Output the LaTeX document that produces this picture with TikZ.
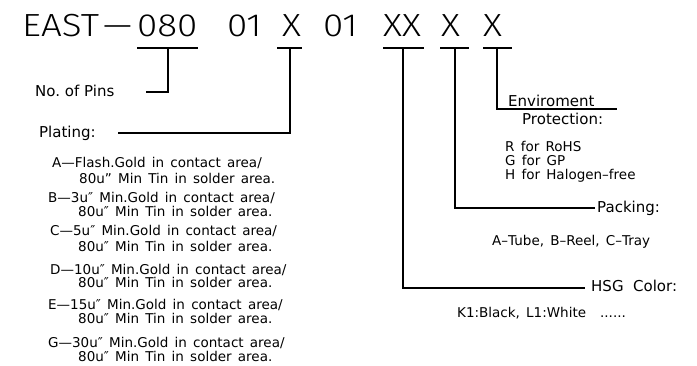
\documentclass[tikz,border=0pt]{standalone}
\usepackage{fontspec}
\setmainfont{DejaVu Sans}
\newfontfamily\titlefont{Fira Sans Light}[FakeStretch=1.15]
\newcommand\mysmallfont{\fontsize{13.5}{13.5}\selectfont\spaceskip=0.46em\relax}
\begin{document}
\begin{tikzpicture}[x=1pt,y=-1pt]
\tikzset{
 ttl/.style={font=\titlefont\fontsize{32}{32}\selectfont, inner sep=0pt, anchor=base west},
 lbl/.style={font=\fontsize{15}{15}\selectfont, inner sep=0pt, anchor=base west},
 sml/.style={font=\mysmallfont, inner sep=0pt, anchor=base west},
 ln/.style={line width=1.6pt}
}
\useasboundingbox[fill=white] (0,0) rectangle (697,366);
% title
\node[ttl] (t0) at (22,37) {EAST};
\node[ttl] (t1) at (103,37) {—};
\node[ttl] (t2) at (137,37) {080};
\node[ttl] (t3) at (227,37) {01};
\node[ttl] (t4) at (282,37) {X};
\node[ttl] (t5) at (323,37) {01};
\node[ttl] (t6) at (383,37) {XX};
\node[ttl] (t7) at (441,37) {X};
\node[ttl] (t8) at (483,37) {X};
% labels
\node[lbl] (pins) at (35,97) {No.\ of Pins};
\node[lbl] (plat) at (39,138) {Plating:};
\node[lbl] (env1) at (508,107) {Enviroment};
\node[lbl] (env2) at (522,125) {Protection:};
\node[lbl] (pack) at (597,213) {Packing:};
\node[lbl] (hsg) at (591,292) {HSG\ \ Color:};
% plating items
\node[sml] (a1) at (52,168) {A—Flash.Gold in contact area/};
\node[sml] (a2) at (79,184) {80u" Min Tin in solder area.};
\node[sml] (b1) at (48,203) {B—3u″ Min.Gold in contact area/};
\node[sml] (b2) at (78,217) {80u″ Min Tin in solder area.};
\node[sml] (c1) at (50,236) {C—5u″ Min.Gold in contact area/};
\node[sml] (c2) at (78,252) {80u″ Min Tin in solder area.};
\node[sml] (d1) at (50,275) {D—10u″ Min.Gold in contact area/};
\node[sml] (d2) at (78,288) {80u″ Min Tin in solder area.};
\node[sml] (e1) at (48,310) {E—15u″ Min.Gold in contact area/};
\node[sml] (e2) at (78,324) {80u″ Min Tin in solder area.};
\node[sml] (g1) at (48,348) {G—30u″ Min.Gold in contact area/};
\node[sml] (g2) at (78,362) {80u″ Min Tin in solder area.};
% right side items
\node[sml] (r1) at (505,152) {R for RoHS};
\node[sml] (r2) at (505,166) {G for GP};
\node[sml] (r3) at (505,180) {H for Halogen–free};
\node[sml] (pk) at (492,246) {A–Tube, B–Reel, C–Tray};
\node[sml] (hc) at (457,318) {K1:Black, L1:White\hspace{14pt}......};
% connectors
\coordinate (b1l) at (137,48); \coordinate (b1r) at (198,48); \coordinate (s1) at (168,48); \coordinate (f1) at (146,92);
\coordinate (b2l) at (277,48); \coordinate (b2r) at (302,48); \coordinate (s2) at (290,48); \coordinate (f2) at (118,133);
\coordinate (b3l) at (383,48); \coordinate (b3r) at (424,48); \coordinate (s3) at (403,48); \coordinate (f3) at (585,288);
\coordinate (b4l) at (440,48); \coordinate (b4r) at (469,48); \coordinate (s4) at (455,48); \coordinate (f4) at (595,208);
\coordinate (b5l) at (483,48); \coordinate (b5r) at (512,48); \coordinate (s5) at (497,48); \coordinate (f5) at (617,109);
\draw[ln] (b1l) -- (b1r); \draw[ln] (s1) |- (f1);
\draw[ln] (b2l) -- (b2r); \draw[ln] (s2) |- (f2);
\draw[ln] (b3l) -- (b3r); \draw[ln] (s3) |- (f3);
\draw[ln] (b4l) -- (b4r); \draw[ln] (s4) |- (f4);
\draw[ln] (b5l) -- (b5r); \draw[ln] (s5) |- (f5);
\end{tikzpicture}
\end{document}
